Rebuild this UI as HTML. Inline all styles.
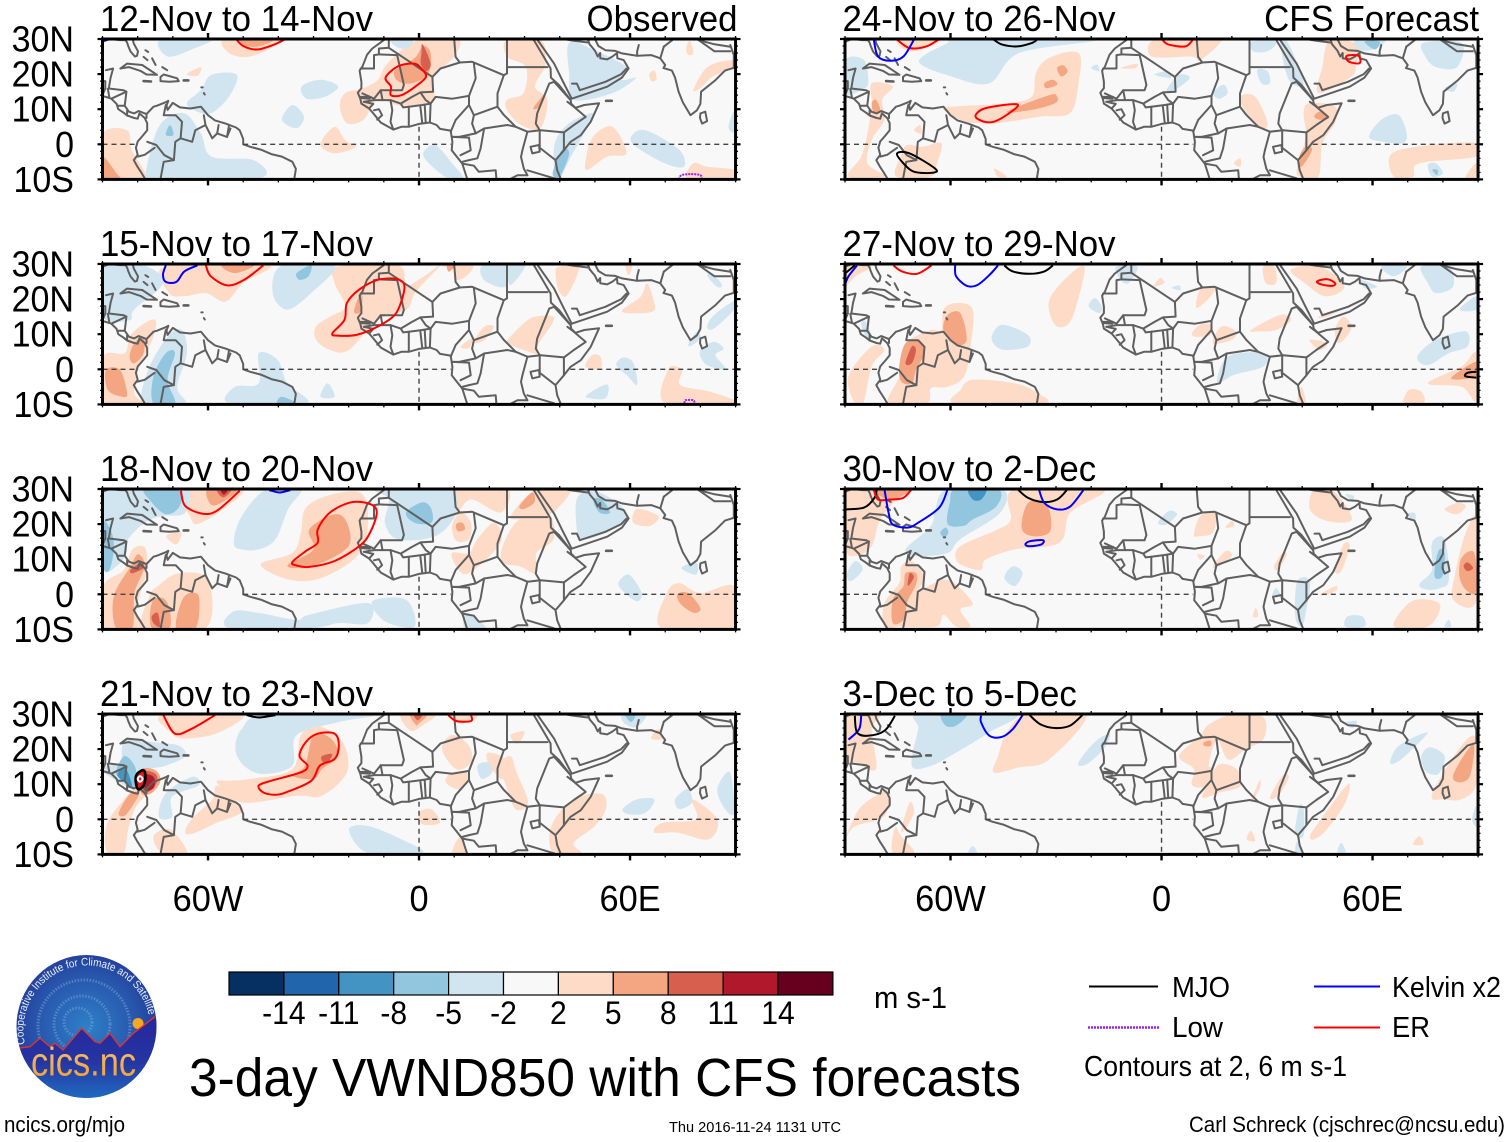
<!DOCTYPE html>
<html lang="en">
<head>
<meta charset="utf-8">
<title>3-day VWND850 with CFS forecasts</title>
<style>
html,body{margin:0;padding:0;background:#fff;}
svg{display:block;font-family:"Liberation Sans",sans-serif;}
text{fill:#000;}
</style>
</head>
<body>
<svg id="figure" xmlns="http://www.w3.org/2000/svg" width="1510" height="1142" viewBox="0 0 1510 1142">
  <rect width="1510" height="1142" fill="#fff"/>
  <g id="panels"></g>
  <g id="colorbar"></g>
  <text x="874" y="1008" font-size="31" textLength="73" lengthAdjust="spacingAndGlyphs">m s-1</text>

  <g>
    <line x1="1089" y1="986.500" x2="1158" y2="986.500" stroke="#000" stroke-width="2"/>
    <text x="1172" y="997" font-size="29" textLength="58" lengthAdjust="spacingAndGlyphs">MJO</text>
    <line x1="1314" y1="986.500" x2="1380" y2="986.500" stroke="#0000ff" stroke-width="2"/>
    <text x="1392" y="997" font-size="29" textLength="109" lengthAdjust="spacingAndGlyphs">Kelvin x2</text>
    <line x1="1088" y1="1027.500" x2="1159" y2="1027.500" stroke="#a020f0" stroke-width="2.500" stroke-dasharray="2 1"/>
    <text x="1172" y="1037" font-size="29" textLength="51" lengthAdjust="spacingAndGlyphs">Low</text>
    <line x1="1314" y1="1027.500" x2="1380" y2="1027.500" stroke="#ff0000" stroke-width="2"/>
    <text x="1392" y="1037" font-size="29" textLength="38" lengthAdjust="spacingAndGlyphs">ER</text>
    <text x="1084" y="1076" font-size="28.500" textLength="263" lengthAdjust="spacingAndGlyphs">Contours at 2, 6 m s-1</text>
  </g>

  <text x="189" y="1096" font-size="54" textLength="832" lengthAdjust="spacingAndGlyphs">3-day VWND850 with CFS forecasts</text>
  <text x="4" y="1132" font-size="22.500" textLength="121" lengthAdjust="spacingAndGlyphs">ncics.org/mjo</text>
  <text x="669" y="1132" font-size="14.500" textLength="172" lengthAdjust="spacingAndGlyphs">Thu 2016-11-24 1131 UTC</text>
  <text x="1189" y="1132" font-size="22" textLength="316" lengthAdjust="spacingAndGlyphs">Carl Schreck (cjschrec@ncsu.edu)</text>

  <g>
    <defs>
      <radialGradient id="logoSky" cx="0.5" cy="0.5" r="0.62">
        <stop offset="0" stop-color="#2d80c8"/>
        <stop offset="0.55" stop-color="#2858ae"/>
        <stop offset="1" stop-color="#22308f"/>
      </radialGradient>
      <linearGradient id="logoGround" x1="0" y1="0" x2="0" y2="1">
        <stop offset="0" stop-color="#27249a"/>
        <stop offset="0.55" stop-color="#2535a2"/>
        <stop offset="1" stop-color="#1f74c4"/>
      </linearGradient>
      <linearGradient id="logoText" x1="0" y1="0" x2="0" y2="1">
        <stop offset="0" stop-color="#f6c676"/>
        <stop offset="1" stop-color="#f09a32"/>
      </linearGradient>
      <clipPath id="logoClip"><ellipse cx="86.500" cy="1026.500" rx="70" ry="71.500"/></clipPath>
      <path id="logoArc" d="M 25 1044 A 63 64 0 1 1 149 1016"/>
    </defs>
    <ellipse cx="86.500" cy="1026.500" rx="70" ry="71.500" fill="url(#logoSky)"/>
    <g clip-path="url(#logoClip)" fill="none" stroke="#7fa8d8" stroke-opacity="0.5" stroke-width="3" stroke-dasharray="1.500 1.500">
      <circle cx="78" cy="1022" r="14"/>
      <circle cx="82" cy="1024" r="28"/>
      <circle cx="84" cy="1026" r="46"/>
    </g>
    <circle cx="138" cy="1023.500" r="5.500" fill="#f7a823"/>
    <path clip-path="url(#logoClip)" d="M12 1050 L18 1048.300 L30 1046.700 L40 1038.300 L50 1046.700 L55 1043.300 L63 1050 L81.700 1028.300 L95 1041.700 L100 1043.300 L110 1033.300 L120 1046.700 L133.300 1033.300 L155 1016.700 L165 1010 L165 1105 L12 1105 Z" fill="url(#logoGround)" stroke="#e2342e" stroke-width="1.300"/>
    <text x="31" y="1075.500" font-size="40" textLength="105" lengthAdjust="spacingAndGlyphs" style="fill:url(#logoText)">cics.nc</text>
    <text font-size="11" style="fill:#e6f0fa"><textPath href="#logoArc" textLength="205" lengthAdjust="spacingAndGlyphs">Cooperative Institute for Climate and Satellites</textPath></text>
  </g>
</svg>

<script>
/* ---------- colour scale ---------- */
const colorbarLevels = [-14, -11, -8, -5, -2, 2, 5, 8, 11, 14];
const colorbarColors = ['#053061','#2166ac','#4393c3','#92c5de','#d1e5f0','#f8f8f8','#fddbc7','#f4a582','#d6604d','#b2182b','#67001f'];

/* ---------- axis tick values ---------- */
const latTickLabels = [[30,'30N'],[20,'20N'],[10,'10N'],[0,'0'],[-10,'10S']];
const lonTickLabels = [[-60,'60W'],[0,'0'],[60,'60E']];
const panelTitles = ['12-Nov to 14-Nov','15-Nov to 17-Nov','18-Nov to 20-Nov','21-Nov to 23-Nov','24-Nov to 26-Nov','27-Nov to 29-Nov','30-Nov to 2-Dec','3-Dec to 5-Dec'];

/* ---------- geography (lon, lat pairs) ---------- */
const coastLines = [
 [-10,29.7,-13.3,27.3,-14.8,25.5,-16.1,22.1,-16.9,21,-16.4,17.8,-16.4,16,-17.4,14.7,-16.7,13,-16.4,11.6,-14.2,10.2,-13,8.8,-10.9,6.2,-7.3,4.2,-5,5,-2.9,5,0,5.8,3.1,6.2,5,5.5,6,4.4,9,3.9,9.5,.7,9.3,-1.7,12.3,-5.5,13.7,-9.9],
 [32.7,29.6,34.6,26.4,37.4,21.6,37.5,19,39.8,16.9,43.1,12.6,43.3,11.5,44.5,10.4,47,11.2,51.2,11.7,48.8,6.4,46,2.6,43.1,.7,41.2,-1.7,38.8,-4.5,39.3,-7.4,40.3,-9.9],
 [33.6,29.9,38.4,23,40.7,18.3,43.4,13,46.4,14,53.5,16.4,57.7,19,59.6,21.6,58.2,24,56.4,24.5,56.3,26,55,25,53.5,24.2,51.5,24.5,51.5,26,50.8,25,50,26.7,48.5,28.5,48,30],
 [48.7,30,50,30,51,28,53,26.8,55.8,26.6,57.7,25.9,62,25.2,66,25.4,68.6,24.5,70,22.6,69.5,21.7,71.9,21,72.8,19,73.8,15,75,12,77.2,8.3,79,9.7,80,11.5,80.2,15,84.3,18.3,87,21,89.5,21.8],
 [80,8.8,81.4,9.3,81.9,6.6,80.5,5.9,79.9,7.5,80,8.8],
 [-89,21.1,-87,21.6,-87.7,19,-88.2,15.9,-84,15.4,-83.2,15,-83.5,12.5,-83.7,11,-82.5,9.3,-81,8.8,-79.7,9.5,-77.5,8.6,-75.5,10.7,-74.5,11,-72,12,-71.3,12.4,-71.8,11,-71.5,9.8,-70,11.8,-68,10.5,-65,10.2,-62,10.7,-61,9.5,-60,8.3,-58,6.8,-55,5.9,-52,4.8,-51,4,-50,1.5,-50,0,-48,-0.7,-45,-1.5,-42,-2.8,-39,-3.5,-36,-5,-35,-7,-35.5,-10],
 [-90,13.8,-88,13.2,-87.5,13,-86,11.5,-85.5,10,-84,9,-83,8.2,-81,7.5,-80,7.3,-79.5,8.8,-78,7.5,-77.3,6,-77.3,4,-78.5,2.5,-80,.8,-80.5,-1,-80,-3,-81.1,-4.5,-80,-6.5,-79,-8,-77.8,-10],
 [-90,29.2,-88,30,-85,29.7,-83.5,29.7,-83,29,-82.7,28,-82,26.4,-80.8,25,-80.2,25.2,-79.9,26.5,-81.1,28.7,-81.4,30],
 [-84.9,21.6,-83,23,-78.7,22.6,-74.5,19.8,-77.5,19.9,-79.2,20.9,-82.5,22,-84.9,21.6],
 [-73.5,19.2,-72.6,19.9,-68.8,18.8,-68.3,18,-71,17.8,-73.5,18,-73.5,19.2],
 [-78.3,18,-76.2,17.9],[-66.9,18.2,-65.6,18.2],
 [-77.8,26.8,-77,26.3],[-78.3,24.9,-77.2,24],[-75.9,24.5,-74.9,22.6],[-73,22,-71.6,21.1],
 [-61.9,16.2,-61.5,16.2],[-61.2,14.6,-60.9,14.2],
 [31.7,-0.7,34.1,-0.2,34.3,-2.1,32.2,-2.6,31.7,-0.7],
 [29.4,-1.7,29,-3.6,29.8,-6.9,30.8,-8.8]
];
const borderLines = [
 [-8.6,29.9,-8.6,27.5,-11.4,27.3,-11.4,25.6,-12.8,25.4,-12.8,21.6,-16.6,21.6],
 [-11.4,25.6,-6.2,25.4,-4.3,16.9,-4.8,15.4,-10.9,15.4,-12.8,13,-16.1,14.5],
 [-8.6,27.5,3.8,19.2,6.1,21.6,11.6,23.3,15.1,23.5,24.1,19.7,25,20.2,25,29.9],
 [10,29.9,10.4,24.9,11.6,23.3],[25,22,36.5,22],
 [15.6,23,16.1,18.8,14.2,13.8],
 [3.8,19.2,4,15,.4,14.8,-2,13.5,-5.2,11.6,-8.1,12.6,-10.4,12.6,-10.9,15.4],
 [.4,14.8,1.9,12.6,3.3,11.6,4.7,13.5,9.5,13,14.2,13.8],
 [3.3,11.6,3.1,6.3],[-5.2,11.6,-4.5,10.5,-2.9,10.7,.9,11.2,3.3,11.6],[-2.9,10.7,-2.9,5.2],[.4,10.7,.9,6.2],[1.6,11.2,1.9,6.2],
 [-8.1,12.6,-7.6,9.7,-8.1,6.4,-7.3,4.2],[-12.8,9.7,-11.4,10,-10.5,8.3,-11.9,7],[-15.7,12.1,-12.8,12.6,-10.4,12.6],[-16.7,13.5,-13.8,13.5,-14,13,-16.7,13.2],[-14.2,10.2,-13,11.5,-15.7,12.1],
 [9,3.6,10.4,6.9,14.2,11.2,14.2,13.8],[14.2,11.2,15.6,8.3,15.1,5.9,16.1,3.1,11.4,2.1,9.5,2.1],
 [15.6,8.3,22.3,10.7,22.3,14.5,24.1,19.7],[22.3,10.7,24.2,8.3,27.5,5],[16.1,3.1,18.5,4.5,25.1,5.5,27.5,5,30.8,3.6,34.6,4,41.2,3.4],
 [34.3,4,33.2,5.9,33.6,8.8,37,17.3,38.4,17.8,43.1,12.6],[41.2,3.4,44,5.5,47.4,7.8,44,10.7,42.2,12.1],[41.2,3.4,41.2,-1.7],[34.3,4,34.3,-1.7],[34.6,-1.2,38.8,-4.5],
 [30.8,3.6,29.4,-1.7],[30.8,-7.4,38.4,-9.7],[14.2,1.9,14.7,-1.7,11.8,-3.1],[9.5,2.1,14.2,1.9],[18.5,4.5,17.5,-1.2,16.6,-4,14.2,-4.5,12.3,-5],
 [12.3,-5.5,15.6,-6.1,17,-7.8,21.8,-7.4,22,-9.9],[24,-10.9,28,-8.8,30.8,-8.8],
 [43.5,17.3,44.9,17.3,45.7,15.4,53,17.8,57.5,20,59,21.6],[48,29,44,29.5,41,30],
 [62.5,28.3,62,26.4,62,25.2],[69.6,27.8,68.6,24.5],[69.6,27.8,72,29.7],[79.5,29.7,84,26.5,88.5,26.5],[79.5,29.7,84,28.5,88.5,27.8],[88.5,28.3,89.5,25.4,89.5,21.8],
 [-72,11.2,-72.6,8.3,-69.2,8.3,-67.4,6.4,-67.8,1.7,-69.3,.7,-69.7,-4.5,-72.6,-5,-73.5,-9.9],
 [-67.8,1.7,-64.5,.7,-63.6,4,-60.7,5.5,-61.2,8.3],[-60.7,5.5,-58.8,1.7,-57.4,3.1,-54.6,2.1,-53.6,4.5],[-57.4,3.1,-57,5.5],[-54.6,2.1,-54,5.5],
 [-77.3,.7,-74.7,-.2,-72.4,-3.1,-69.7,-4.5],[-80,-3.5,-78,-3,-75.2,-1],
 [-83,8.2,-83,9.6],[-85.7,11,-83.7,11],[-87.5,13,-83.2,15],[-89.2,15.9,-89.2,18,-90,18],[-88,13.2,-88.5,15.8],[-90,14,-89.2,15.9],[-77.5,8.6,-77.5,7.5]
];
const islandDashes = [[53.2,12.4,54.8,12.4],[-78.3,18,-76.2,17.9],[-66.9,18.2,-65.6,18.2]];

/* ---------- shaded anomalies: [level, [lon, lat, ...]] ---------- */
const shade12Nov = [
 [2,[-55,30,-54,26,-48,25,-39,29,-37.5,30]],[5,[-51.5,30,-49,28,-45,28,-41.5,30]],
 [2,[-0.8,29.5,11,30,10,25,4,19,4,12.7,-5,11,-11.7,12.7,-15.8,7,-20.5,6,-22.5,10.8,-21,14.6,-15.8,16,-11.7,18.4,-9,23]],
 [5,[1.2,28,3.3,26,2.6,20,-2,17.4,-6,18,-7,20.8,-3.5,23,-0.8,25]],[8,[1,28.5,3.3,23,2,20.8,0.5,23,0.7,26]],
 [2,[25,29.8,34.5,29.8,36,23,33,16.5,36.5,12.7,34.5,4.6,29,5.5,25,9.8,25,12.7,29.7,14.6,30.4,22,25,25]],[5,[36,14.6,34.5,10.8,32.5,10.3]],
 [2,[-28,0,-24,5,-21,1.2,-18,-0.7,-24,-2.6]],[2,[-90,3,-83,4,-81.7,-1.6,-78,-9.7,-90,-9.7]],[5,[-90,-3.5,-86,-8.3,-85,-10,-90,-10]],
 [2,[47.4,-4.5,49.5,2.2,55,5,59,-2.6,53.5,-3.5,47.9,-7.3]],[2,[76.6,-10,78,-5.4,82,-6.4,89.5,-7.3,89.5,-10]],
 [2,[78,15.5,82,22,89,24,89,21.7,83.4,19.3,80,16]],[2,[65.5,20,67,21,67.5,18.5,66,18]],[2,[76,27.5,77,29.5,78,26,76.5,25.5]],[2,[-66,20,-62,22,-63,19.5]],
 [-2,[-66,11.7,-62,15.5,-59,19.8,-51.8,19.8,-54,13.6,-59,8.9,-63,9.3]],[-2,[-73.5,29.8,-71.5,25,-64.7,27,-59,30]],
 [-2,[-33.4,16.5,-28,18.4,-23,16.5,-26.6,13.6,-32,13]],[-2,[-39,7,-36,11.2,-32.7,7.9,-34.8,4.6]],
 [-2,[-78,-9.2,-74,5,-67,8.9,-62,3,-59,-3.5,-47,-4.5,-45.6,-9.7,-77,-10]],[-5,[-72,2.7,-70.8,5.5,-69.8,2.7]],
 [-2,[1.2,-2.6,4.6,-0.2,9.4,-5.4,12.8,-10,8.7,-10,3.3,-5.9]],[-2,[38.6,-9.2,38.6,0.3,42.7,6,49.5,8.9,47.4,4,42.7,-4.5,40,-10]],[-5,[38,-8.3,40.6,-1.6,42.7,-2.6,40,-9.2]],
 [-2,[42.7,28.9,49.5,27,59,22,57.6,18.4,61.7,18.9,55,14.6,44,12.7,42.7,20]],[-2,[60.3,2.2,64.4,4,74,-1.6,75.3,-6.4,69.8,-5.4,61.7,-0.7]],
 [-2,[88,5,89.5,9.3,89.5,3.6]],[-2,[-8.3,30,-2,30,-3,27.5,-6,27.5]]
];
const shade15Nov = [
 [2,[-72,29.3,-43,29.8,-50,24.6,-55,19.3,-60.6,21.7,-66.7,20.8,-71,21.7]],[5,[-56,29.6,-47,29.6,-52.4,27.4]],
 [2,[-29.3,12.2,-25.3,15,-21,17.9,-24,24.6,-23.2,29.3,-6,29.6,-3.8,24,.5,25.9,6.1,29.7,-1,22,-3.5,17,-11.7,14,-20,5.5,-25.3,5.5,-29.3,8.4]],
 [5,[-18.5,16.4,-17.1,20.7,-16.1,20.7,-16.6,16.4]],
 [2,[6.1,29.7,15.1,29.7,13.2,26.4,10,25.4,10.4,28.3]],[5,[8,29.7,10.4,29.7,8.5,27.8]],
 [2,[-82.3,9.3,-78.3,13,-74.9,14,-75.5,9.3,-78.3,3.6,-79.6,0.8,-81,-6.9,-78.3,-9.7,-89.8,-9.7,-89.8,3.6,-83.7,4.6]],
 [5,[-82.3,3.6,-81,7.4,-78.3,9.3,-78.3,4.6,-81,1.7]],[5,[-89,-0.2,-85,-0.2,-83,-6.9,-84.4,-7.8,-88.5,-5.9]],
 [2,[25.1,8.3,29.8,13.1,33.1,15,38.4,14.5,34.1,7.4,33.6,4.5,29.8,5.5,25.1,7.4]],[2,[15.6,7.8,18.5,12.1,21.3,12.1,18.5,8.3]],[2,[11.8,6.4,15.1,8.8,14.2,6]],
 [2,[57.7,16.4,63,20.7,64.8,24.5,66.7,19.7,66.3,16.4]],[2,[39.7,29.2,45.4,29.2,42.1,21.1,39.7,22.5,38.8,27.3]],
 [2,[70,-9.7,71,.2,74.8,-.2,74.3,-4.5,82.8,-6.4,90,-9.7]],[2,[47.3,.7,49.2,4,51.6,3.6,51.6,.2]],[2,[58.7,29.7,60.6,29.7,59.6,26.8]],
 [-2,[-89.8,29.6,-78.3,29.6,-72.8,24.6,-81,17,-82.3,14,-89.8,15]],[-2,[-41.6,21.7,-39,29.6,-24,29.6,-30.7,21.7,-37.5,17]],[-5,[-34.8,27.4,-30.7,29.6,-31.4,26.5,-34,25.5]],
 [-2,[-78.3,-9.7,-77,-0.2,-71.5,9.3,-67.4,11.2,-66,4.6,-68.8,-5,-66.7,-9.7]],[-5,[-75.5,-9.7,-75.5,-2,-72,4.6,-69.4,4.6,-71.5,-3,-69.4,-9.7]],
 [-2,[-53.8,-9.7,-52.4,-5,-45.6,-4,-45.6,4.6,-40.2,2.7,-37.5,-4,-32,-9.7]],[-5,[-40.2,-9.7,-39,-7.8,-35,-9.7]],[-2,[-28,-7.8,-26,-4,-24,-7.8]],
 [-2,[18,29.7,25.1,29.7,24.6,23.5,18.5,25.4]],[-2,[25.6,29.7,30.3,29.7,26,24]],
 [-2,[56.1,1.7,58.2,3.4,61,1.7,62,-4.5,59.1,-1.7,56.8,.2]],[-2,[47.6,-7.4,52.5,-4.5,53.9,-5,53,-8.3,48.7,-8.3]],
 [-2,[80,5.5,83.8,7.8,86.6,5.9,84.3,4,87.1,.2,82.8,.7,80.5,2.6]],[-2,[81.9,12.1,83.8,15.4,90,19.7,89.5,16.9,83.8,11.6]],[-2,[76.7,7.4,79,10.7,80,8.8,77.2,6.6]],[-2,[81.9,26.8,83.8,26.8,86.2,24,84.7,23.5]]
];
const shade18Nov = [
 [2,[-67.7,30,-50.4,30,-56.3,23.8,-63,20,-65,22]],[5,[-60,30,-51.6,30,-56.3,26,-59.3,25.7]],[8,[-57.5,30,-53.3,30,-55.7,27.6]],[11,[-56.3,29.5,-54.5,29.5,-55.5,28.4]],
 [2,[-45,8.5,-36,11.8,-33.6,17.6,-32.4,24.3,-26.4,28,-16.8,29,-14.5,22.3,-16.8,11.8,-27.6,4.7,-37,4.2]],
 [5,[-37.2,8.5,-30,12.8,-31.2,18.5,-24,22.8,-20.5,20.4,-20,13.8,-27.6,9,-34.8,7.5]],
 [2,[-71.9,16.6,-67.7,17.6,-69,14.2]],
 [2,[-89.8,2.3,-83.9,7,-81.5,12.8,-77.9,13.3,-77.3,7,-79,1.3,-80.3,-5.3,-77.3,-9.6,-89.8,-9.6]],[5,[-86.2,-9.6,-86.8,-0.6,-82,8,-79.9,11.4,-78,8,-80.9,0.4,-81.5,-9.6]],[8,[-82,7,-79,9,-78.3,7.5,-81.5,6]],
 [2,[-77.9,-9.6,-76.7,-0.6,-74.3,2.3,-68.3,6,-60,4.2,-60.6,-9.6]],[5,[-76,-9.6,-76,-2.5,-73,-1,-71,-4,-71,-9.6]],[5,[-69,-9.6,-67.5,-2,-65,0.4,-62.5,-1,-63.5,-9.6]],[8,[-76,-6.3,-74.3,-5.3,-73.7,-9.2,-75.5,-8.2]],
 [2,[9.4,30,25,30,23.2,23.3,14.8,27,10.6,23.3]],[2,[9.4,19.5,11.8,23.3,14.8,20.4,14.2,15.7,10.6,15.2]],[5,[10.6,20,12.4,20.4,13,18.5,11,18]],
 [2,[16.6,15.7,21.4,20.4,23.2,14.7,14.2,6,10.6,8,9.4,11.8,14.2,11.8]],[2,[23.8,13.8,28.6,21.4,37,22.3,38.2,15.7,33.4,11.8,33.4,6,28.6,8,23.8,9]],
 [2,[26,22,33.4,30,43,30,38,23.3,32,22]],[5,[28.6,25.2,32.2,29,32.8,26.2,29.8,24.3]],[2,[17.2,28,19.6,29,20.2,27]],[2,[60.9,20.4,62,24.3,68,22.3,65.7,19.5]],
 [2,[69,-9.6,70.5,0.4,74,3.2,80,0.4,89.6,2.3,89.6,-9.6]],[5,[73.4,-0.1,76.4,0.4,80,-3.9,78.2,-5.3,74.6,-3]],
 [-2,[-89.8,30,-67.7,30,-65.3,27,-67,22.8,-73,22.3,-78,20.4,-82.7,15.7,-83.2,11.8,-86,8,-89.8,8]],[-5,[-77.9,30,-68.7,30,-68,25.2,-72,22.8,-76.7,27]],[-5,[-89.8,20.4,-87.4,17.6,-86.8,12.8,-88,7,-89.8,8]],
 [-2,[-52.7,14.7,-50.4,22.3,-43.2,30,-33.6,30,-37.2,24.3,-40.8,15.7,-45.6,12.8,-50.4,12.8]],
 [-2,[-12,30,8.3,30,10.6,23.3,4.7,16.6,-6,15.7,-9.7,20.4,-8.5,27]],[-5,[-3.7,23.3,1,26.2,3.5,24.3,3.5,20.4,-1.3,20.4]],
 [-2,[45.3,28,51.3,29,59,23.3,54.9,18.5,46.5,15.7,44.7,20.4]],[-5,[49.5,27,52,27,54.3,23.3,51.3,23.3]],[-2,[56.7,3.2,59.7,5.6,63.3,0.4,62,-2,58.5,0.4]],[-2,[74.6,7.5,78.8,9,78.8,5.6]],
 [-2,[-53.9,-9.6,-52.8,-4.9,-45.6,-5.3,-34.8,-7.3,-31.2,-5.8,-14.5,-2.5,-14.5,-8.2,-22.8,-8.2,-31.2,-9.6]],[-2,[-13.3,-2,-3.7,-1.5,-1.3,-9.2,-9.7,-7.7]],[-2,[13,-9.6,13.6,-5.3,19,-9.6]]
];
const shade21Nov = [
 [2,[-73,29.7,-50.4,30,-57.5,24.5,-67,23,-70.7,24.8]],
 [2,[-57.5,10.5,-50.4,4.8,-34.8,6.7,-27.6,6.7,-20.5,13.4,-21.7,22,-28.8,26.7,-33.6,24,-36,14.3,-48,11.5,-54,11]],
 [5,[-32.4,15.3,-30,24,-25,23,-23,18,-27.6,14.3,-30,11.5,-36,12.4]],[8,[-27.6,18,-24.7,18.6,-26,16.2,-27.5,16.5]],
 [2,[-88.6,-9.6,-88.6,-1,-81.5,8.6,-80.3,11,-75.5,13.4,-75,9.6,-80.3,3.8,-82.7,-2.9,-84,-9.6]],[5,[-85.4,1.7,-82.5,6.9,-79.7,7.8,-80.2,5.9,-83.5,1.2]],
 [5,[-79,14,-75,14,-73.5,11,-76,7.5,-79,7.5]],[8,[-78.5,13.5,-75,13,-74.5,10.5,-77,7.8,-78.5,8.5]],[11,[-78.3,12.6,-75.4,12,-75.4,9,-78,8.3]],
 [2,[-66.5,-3.8,-64.7,0,-58.7,5.7,-57.5,9.6,-51.6,4.8,-50.4,1.9,-57.5,-1,-64,-4]],[2,[-73,-9.6,-75.5,-4.8,-70.7,-2.9,-66,-9.6]],
 [2,[-5,30,4.7,30,1,26.7,-2.5,25.3]],[5,[-2.5,30,2.3,30,-0.1,27.2,-1,27]],[8,[-1.5,30,1,30,-0.4,28.2]],[2,[9.4,29.7,16.6,29.7,14.2,27.7,10.6,27.5]],
 [2,[6.5,20,9.4,24,14.2,21,14.8,16.2,10.6,14.3]],[2,[19.6,19,24.4,17,23.8,11.5,21.4,13.4,19.6,16]],[2,[7.6,10.5,9.4,13.4,14.2,12.9,11.8,8.6]],
 [2,[22.6,15.3,26,18,27.7,13.4,31,4.8,27.4,2.9,24.4,10.5]],[2,[26,24,30,25,28,21.5]],[2,[38.2,-9.6,37.6,-1.9,44,5.7,52,7.2,53.1,2.9,50,-1.9,44,-6.7,46,-9.6]],
 [2,[66.9,-3.8,69.3,-1,78.8,0,77.6,5.7,84.8,0,82.4,-5.7,73.4,-3.8]],[2,[66,23,68,25.8,69.3,23]],[2,[0,1.9,3.5,2.9,5.9,-1,1,-1.4]],[2,[9.4,-9.6,11.8,-4.8,13,-9.6]],
 [-2,[-82.7,23,-75.5,22,-68.3,21,-66.5,18,-71.9,15.3,-78,13.8,-79,9.6,-81.5,8.6,-89.8,13.4,-89.8,15,-85,16.2,-84.4,21]],[-5,[-86.2,13.4,-83.8,18,-80.9,15.3,-80.3,11,-81.5,9,-84.4,11.5]],[-8,[-85.8,12.6,-83.5,14.5,-81.6,9.7,-83,10]],
 [-2,[-52.2,20,-50.4,25.8,-43.2,30,-12,30,-22.8,27.7,-34.8,24,-36,15.3,-44.4,12.9,-49.8,15.3]],
 [-2,[57.9,30,64.5,30,62,26.3,58.5,27.2]],[-5,[58.5,30,61.5,30,60.3,27.7]],[-2,[-19.9,-2.9,-14.5,-1.9,-5,-5.7,1,-9.6,-14.5,-9.6]],
 [-2,[57.9,2.9,62,5.7,66.9,5.7,64.5,1.9,59.7,1.4]],[-2,[72.8,5.7,76.4,8.6,77.6,4.8,74,2.9]],[-2,[84.8,8.6,88.4,13.4,89.6,1.9,87,2.9]],[-2,[16.6,15.3,19.6,16.2,20.8,13.4,17.8,11.5]],
 [-2,[-74,.7,-72,7.4,-64.5,12.1,-62.6,9.7,-70.2,6.4,-70.2,.7]]
];
const shade24Nov = [
 [2,[-75.2,30,-63,30,-66.9,27.5,-72,26.5]],
 [2,[-62,9.8,-58.4,10.8,-44,11.7,-36.9,13.6,-35.7,20.3,-32,24.6,-23.6,26,-23.6,17.4,-26,8.9,-34.5,7.9,-46.5,6,-51.3,6,-56,6.5]],
 [5,[-44,9.3,-32,14,-29.7,13.6,-30.3,11.7,-37,9.8]],[5,[-29.7,21.7,-28,22.5,-26.7,20.8,-28.5,19.3]],[5,[-33.3,17.4,-30.9,18.4,-29.7,17,-32.7,16]],
 [2,[-89,-9.2,-85.4,-3.5,-83.6,3.1,-82.4,11.7,-82.4,17.4,-76.4,16.5,-79.4,12.7,-78.8,7,-82.4,1.2,-83.6,-5.4,-78.8,-9.2]],[5,[-82.4,11.7,-81.2,12.7,-80,9.8,-81.8,9.3]],
 [2,[-75.4,-9.2,-74.2,-3.5,-72.4,-0.2,-68,-0.7,-62.6,0.3,-63.8,-5.4,-65.6,-9.2]],[2,[-70.4,4,-68.6,5.5,-68.3,3]],[2,[-46.5,-9.2,-47.5,-6.9,-44,-9.2]],
 [2,[-2.2,29.8,8.6,29.8,17,29.8,11,24,8.6,25,-2.8,25]],[2,[-11.7,21.7,-7,23,-7.5,21.7]],
 [2,[48,29.8,56.5,28,55.3,23,54,19.3,44.6,14.6,45.7,22]],
 [2,[38.6,-6.4,41,2.2,40.4,8.9,42,11.7,49.3,10.8,49.3,6,45.7,0.3,44.6,-9.2,39.2,-9.2]],[5,[39.2,-3.5,41,-0.7,42.8,-1.6,39.8,-6.4]],[5,[43.4,7.9,45.1,9.3,47.5,7.4,45,7]],
 [2,[22.4,13.6,26.6,13.6,30.2,6,27.8,4.6,23.6,9.8]],[2,[66,-9.2,65.5,-2.6,77,-0.2,89.5,0.3,89.5,-3.5,73.3,-5.4,71.5,-9.2]],[2,[86.5,-9.2,89.5,-5.4,89.5,-9.2]],[2,[20.6,-5.4,22.4,-4,22.4,-6.4]],
 [-2,[-90,24,-84.6,24,-83.4,17.4,-85.4,15.5,-90,14.6]],[-2,[-69,23.6,-60.8,28.9,-58.4,29.8,-18.9,29.8,-40.5,26,-48.9,17.4,-59.6,19.3]],[-2,[-20,21.7,-18.3,22.7,-17.7,20.8]],
 [-2,[1.4,15.5,5,19.8,8,18.9,3.8,15.5]],[-2,[-2,19.8,1.4,20.8,2.6,18.9]],[-2,[14.6,14.6,17.6,17,18.8,14.6,16.4,13]],[-2,[27.2,21.2,30.2,20.8,30.8,17.4,28.4,17.4]],
 [-2,[55.3,29.8,63.7,29.8,60,27,56,27]],[-5,[57.7,29.3,62,29.3,60.7,27]],[-2,[74.5,28.9,85.3,28.9,84,22,78,22,75,25]],[-2,[80.5,16,84,17.4,83,15]],
 [-2,[59,2.2,62.5,7,67.3,8.4,69.7,3.1,68.5,0.3,62.5,0.8]],[-2,[75.7,-5.9,78,-5.4,80,-8.3,76.9,-9.2]],[-5,[77,-7.3,78.5,-7.3,78.3,-8.8]],[-2,[25.7,29.3,32.6,29.3,30.2,26.5,26,26.5]],[-2,[33.8,28.9,36,28.9,40.4,17.4,36.2,18.4]]
];
const shade27Nov = [
 [2,[-89.6,29.3,-82.4,29.3,-87,26.5,-90,23.6]],[2,[-87.2,-9.7,-89,-2,-82.4,6.5,-78.8,5.5,-82.4,0.8,-84.8,-9.7]],
 [2,[-77.6,-9.7,-74.6,-2,-74,4.6,-71.6,8.4,-65.6,11.2,-62.6,11.2,-62,17,-58.4,18.9,-53.7,17,-54.3,6.5,-56.1,-2,-60.9,-5,-65.6,-5.4,-66.8,-9.7]],
 [2,[-58.4,-9.7,-57.2,-5.9,-53.7,-3,-41.7,-4,-35,-6.9,-33.8,-9.7]],
 [5,[-74.6,0.8,-72.8,7.4,-68.6,7.9,-67.4,4.6,-69.8,-0.2,-71,-4,-74,-3.5]],[8,[-72.8,1.7,-71,6.5,-69.8,5.5,-71,1.7]],[5,[-62,11.2,-60.8,15.5,-57.2,16,-55.4,8.4,-58.4,7]],
 [2,[-32.1,18.9,-28.5,24.6,-22,29.3,-24.3,17.9,-26.7,12.7,-30.3,12.7]],[2,[36.8,28.4,45.1,29.3,52,23.6,46.6,20.8,40.7,24.6]],[2,[28.9,29.3,32,29.3,32.6,24.6,29.6,24.6]],
 [2,[9.8,17.9,11,22.7,15.2,23.6,14,20.8,11,18]],[2,[8.6,10.3,11,12.7,14,12.7,14,9.8,9.8,9.3]],[2,[14.6,7.4,17,12.2,21.2,10.8,20,8.4]],[2,[25.4,11.2,33.8,15.5,36.8,14,32.6,11.2,27.8,10.8]],[2,[-2.2,23.6,-0.4,26,0.8,24.6]],
 [2,[44.6,15,53,17.9,47,15]],[2,[49.3,11.2,51.7,15,54,11.7,50.5,7.4]],[2,[42,8.4,47,7.4,45,5.5]],
 [2,[75.7,-4,85.3,0.8,89.5,4.6,89.5,-8.8,85.3,-5]],[5,[82.3,-2.6,89.5,2.2,89.5,-2]],[2,[69,-9.7,70.3,-5.9,73.9,-6.4,74.5,-9.7]],[2,[38.6,-9.7,39.8,-5,41,-9.7]],
 [-2,[-48.3,9.3,-45.3,12.7,-38,9.8,-38,6.5,-44,5.5,-47,6.5]],[-2,[-20.7,17.9,-19,20.3,-17,17.9,-17.7,16]],[-2,[15.8,-4,18.8,3.6,29,4.6,29,0.8,20.6,-1.6]],
 [-2,[72.7,3.6,78,8.4,86.5,10.8,87,6.5,81.7,4.6,75.7,1.2]],[-2,[73.9,29.3,81.7,29.3,82.9,23.6,78,21.7,75.7,24.6]],[-2,[84.7,17,89.5,20.8,89.5,17]],[-2,[62.5,29.3,69.7,29.3,66,26.5]],
 [-2,[2.9,23.2,5,23.9,5.3,22.5]],[-2,[-12.9,29.3,-6.9,29.3,-9.3,24.6,-11.7,25.5]],[-2,[-85.4,12.7,-84.2,13.7,-82.4,9.3,-83.6,8.4]],[-2,[56.5,25.5,61.3,23.6,58,23]]
];
const shade30Nov = [
 [2,[-90,30,-78.7,30,-70.3,30,-75.2,27,-80,21.3,-82.4,13.7,-87.2,10.9,-90,13.7]],[5,[-81.8,30,-70.9,30,-76.4,27,-80,28]],
 [2,[-58.4,9.9,-57.2,13.7,-46.5,18.5,-42.9,21.3,-41.7,30,-16.5,30,-26,23.2,-29,14.7,-41.7,12.8,-50,9.9,-51.3,7,-56,8]],[5,[-39.8,19,-38,26,-33.3,26,-31.5,22.3,-32,17.5,-36.9,16.6]],
 [2,[-78.8,-9.2,-78.8,-2.5,-74.6,3.2,-74,8,-71,9.4,-67.4,5.1,-68.6,1.3,-60.9,4.2,-53.7,-2.5,-57.2,-4.4,-54.3,-9.2,-58.4,-9.2,-62,-5.8,-64,-9.2,-74,-9.2]],
 [5,[-76.4,-8.2,-76.4,-1.5,-73.4,2.3,-72.8,6,-69.8,6,-69.8,2.8,-72.2,-2,-73.4,-7.2]],[8,[-72.2,2.8,-71.6,6,-70.4,5,-71.6,2.8]],
 [2,[9.2,17,11,22.3,15.2,23.2,14.6,17.6,10.5,16.5]],[2,[10.2,11.4,12.2,11,11,9.9]],[2,[14.6,8,18.2,12.3,20,10.9,16.4,8]],[2,[18.2,19,20,20.9,20.6,19.4]],[2,[32,8,34.4,11.8,35.6,11.3,33.2,7]],
 [2,[42.2,24.2,43.4,30,49.3,29,54.1,21.3,47,20.9]],[2,[80.5,24.2,84,26,86.5,25.1,84,22.8]],[2,[49.3,7,51.7,14.2,53.5,13.7,51.1,6.6]],[2,[45.1,-0.1,49.3,2.3,49.9,1.3,47,-0.1]],
 [2,[66.1,-9.2,70.3,-2.5,75.7,-1.5,79.3,-3.4,75.7,-9.2]],[2,[82.9,-1.5,83.5,6,86.5,17.6,89.5,21.3,89.5,-2]],[5,[84.7,5.2,85.3,10.4,88.9,11.8,89.5,0.9,86.5,1.3]],[8,[85.9,8,87,9.1,88.6,7.5,87,6.6]],[2,[26,-6.3,26.8,-3.9,27.5,-6.3]],
 [-2,[-72.8,12.8,-65.6,19.4,-64.4,24.2,-60.8,30,-45.3,30,-45.9,23.2,-57.2,15.7,-60.8,11.8,-69.2,10.9]],[-5,[-60.8,20,-60.2,26,-58.4,30,-46.5,30,-47,25,-53.7,21.3,-56.3,19.5]],[-8,[-54.9,30,-49.9,30,-51.3,27,-53.7,27]],[-5,[-62.9,17.6,-61.4,19,-60.6,17.6,-61.8,16.1]],
 [-2,[-44.7,4.7,-42.3,8,-39.5,6.1,-41.7,2.3]],[-2,[-89.4,6.1,-87,9.5,-85,7,-88.4,3.7]],[-2,[-1,20.4,2,23.7,4.4,22.8,1.4,19.9]],[-2,[31.4,-0.6,32.6,1.8,33.8,-0.6]],
 [-2,[38,-6.3,38.6,3.7,42.2,3.7,41,-5.4,39.8,-9.2]],[-2,[52.3,-9.2,52.9,-6.3,57.1,-6.3,57.7,-9.2]],[-2,[80.5,-9.2,81.7,-7.2,82.3,-9.2]],
 [-2,[73.3,2.8,76.9,7,76.9,14.7,80.5,15.7,81.7,4.2,79.3,1.8,75.7,1.3]],[-5,[77.6,5.2,78.7,12.3,80.5,11.8,79.9,5.2]],[-2,[69.7,22.8,72,23.2,72,21]],[-2,[52.3,28.5,54.7,28,54.1,26.6]]
];
const shade3Dec = [
 [2,[-90,30,-80,30,-82.4,25.7,-81.2,14.3,-87.2,16.2,-90,16.2]],[2,[-47.7,13.3,-46.5,18,-44,24.8,-38,30,-21.3,30,-32,17,-40.5,14.8]],
 [2,[-89.6,-4.8,-86,2.9,-81.2,6.7,-77.6,8,-78.8,0.9,-87,-1.9]],[2,[-74,-2.9,-71.6,4.8,-70.4,1.9,-73,-3]],[2,[-76.4,-9.5,-75.8,-2.4,-74,-4.8,-70.3,-9.5]],
 [2,[5,18,11,23.8,13.4,27,20.6,30,29,29,29,22.9,24,20,19,17,15.8,22.5,13.4,15.5,15,14.3,12.6,9.5,8.6,9.8,9.2,14.3]],[2,[11.6,6.2,14,11.5,16.4,15.7,21.4,14.3,22.4,9.5,16.4,7.6]],[5,[12,21.9,14,22.4,14,20.9,12.2,20.9]],
 [2,[25.4,4.8,27.8,11,28,9]],[2,[30.8,6.2,34.4,12.4,36.2,11.9,33.2,6.7]],[2,[42.2,-4.8,44.6,-1,53,10,52.3,4.8,47,-2.9,43.4,-5.7]],
 [2,[76.9,7.1,85.3,21,89.5,23,89.5,10,85.3,5.7,80.5,5.7]],[5,[82.9,12.4,86.5,19,88.9,21,87.7,12.4,84.7,10.5]],[2,[24.2,-5.7,25.4,-3.3,26.6,-6.2]],[2,[71.5,-7.1,73.3,-4.8,74.5,-7.1]],
 [-2,[-71,15.2,-69.2,25.7,-68.6,30,-41.7,30,-48.9,24.8,-58.4,19,-65.6,15.2]],[-5,[-62.5,30,-55.4,30,-58.4,26.7,-61.4,26.7]],[-2,[-23.7,16,-19,22,-14.7,24.3,-16.5,20,-21.3,15.7]],
 [-2,[65,16.2,67.5,21,75.7,24.8,70.3,19,66.8,16.2]],[-2,[73.9,18,76.3,20.5,80.5,18,78.7,12.9,75,13.8]],[-2,[38,-3.8,39.2,3.8,40.4,2.9,40.4,-4.8]],[-2,[38,-9.5,38.6,-6.2,39.8,-9.5]],[-2,[50,-9.5,51.1,-6.7,52.3,-9.5]],[-2,[88.3,0,89.5,3.8,89.5,-1.9]],[-2,[-54.9,-9.5,-53.7,-7.6,-52.5,-9.5]],[-2,[52,27.5,55.5,28,54.3,26]]
];
const panelShades = [shade12Nov,shade15Nov,shade18Nov,shade21Nov,shade24Nov,shade27Nov,shade30Nov,shade3Dec];

/* ---------- filtered wave contours: [kind, isClosed, [lon, lat, ...]] ---------- */
const contours12Nov = [
 ['er',0,[-52,30,-50,28,-46,27,-41,28.5,-38,30]],
 ['er',1,[-1.5,23,0.5,21.7,2,19.3,-1,16.5,-5,14,-8,14,-8,16.5,-9.5,19,-6,22.2]],
 ['kelvin',0,[-90,29.5,-88,29.9]],
 ['low',0,[73.9,-10,74.6,-8.8,77.3,-8.5,80,-8.8,80.4,-10]]
];
const contours15Nov = [
 ['er',0,[-60.6,29.6,-59.2,26.5,-54.5,23.9,-49.7,25.5,-44.3,29.6]],
 ['kelvin',0,[-72,29.6,-72.8,27,-72,24.9,-69,24.9,-66.7,27.9,-63,29.6]],
 ['er',1,[-24.6,10.3,-21.2,14.1,-20.5,18.9,-17,22.7,-11.7,25.5,-6.3,25.7,-4.2,24,-4.9,19.8,-6.9,15.5,-11.7,12.2,-17.8,9.8,-23.2,9.6]],
 ['low',0,[75.5,-9.7,75.8,-8.8,78,-8.8,78.3,-9.7]]
];
const contours18Nov = [
 ['er',0,[-67.7,29.5,-66.5,25.2,-61.7,23,-57.5,23.8,-51,29.5]],
 ['er',1,[-36,9.2,-32.2,12.3,-28.8,14.7,-28.8,18.5,-25.3,23.3,-19.3,26.2,-13.9,25.7,-12,23.3,-13.9,17.6,-16.9,13.8,-24,9.5,-31.2,7.8,-34.8,8.2]],
 ['kelvin',0,[-42.6,29.7,-39.6,29,-36.6,29.7]]
];
const contours21Nov = [
 ['er',0,[-72.7,29.7,-69.4,24.4,-64.6,25.8,-58,29.7]],
 ['er',1,[-45.6,9.6,-42,11,-33.6,13.4,-31.7,15.3,-34,18,-32.2,22,-28.8,24.4,-24,24.4,-22.8,21,-24,17.2,-28.2,15.3,-30.6,11,-37,8,-40.6,7,-44.2,7.6]],
 ['er',0,[8.3,29.7,10.6,28,14.8,28,14.8,29.7]],
 ['mjo',0,[-49,29.7,-45.5,29,-40.8,29.7]],
 ['cyclone',1,[-80.1,13,-78.3,14,-77.8,12.1,-78.3,9.7,-79.9,8.6,-80.6,11.2]],
 ['eye',1,[-80,11.5,-79.3,12.3,-78.6,11.5,-79.3,10.7]]
];
const contours24Nov = [
 ['er',0,[-75.2,29.8,-71.6,27.4,-66.9,27.9,-63.5,29.8]],
 ['kelvin',0,[-81.8,29.8,-80.6,25,-77,23.8,-73.4,25,-70.4,29.8]],
 ['mjo',0,[-47.7,29.8,-45.3,28.4,-41,27.9,-36.8,28.9,-35.4,29.8]],
 ['er',1,[-52.8,8.4,-50,10.3,-41,11.4,-44,8.4,-48.3,6.3,-51.9,7]],
 ['mjo',1,[-75.2,-2.6,-71.6,-2.6,-64.4,-6.9,-65,-8.1,-70.4,-7.8,-73.4,-5.4]],
 ['er',0,[0.2,29.8,2,28.4,6.8,27.9,8.9,29.8]],
 ['er',1,[52.7,25.2,56,25.2,56.3,23.1,53.2,23.6]]
];
const contours27Nov = [
 ['er',0,[-76.2,29.6,-73.8,27.9,-69.5,27.2,-65.4,29.6]],
 ['kelvin',0,[-58.7,29.6,-58.4,26.5,-55.4,23.8,-52.4,24,-48.9,26.9,-46.5,29.6]],
 ['kelvin',0,[-86.6,29.6,-89,26.5,-90,24.1]],
 ['mjo',0,[-90,27.3,-87.2,29.6]],
 ['mjo',0,[-44.7,29.6,-42.3,27.9,-37.5,27.2,-33.3,27.9,-30.9,29.6]],
 ['er',1,[44.2,25,47,25.7,49.3,24.6,48.7,23.8,45.7,24.1]],
 ['mjo',0,[89.5,-0.7,87,-1,86.4,-2,89.5,-2.4]]
];
const contours30Nov = [
 ['mjo',0,[-90,24.2,-84.6,24.7,-81.6,27.5,-81,30]],
 ['er',0,[-81.8,30,-80.6,27,-77,27,-73.4,27.5,-71,30]],
 ['kelvin',0,[-78.8,30,-77.6,23.2,-76.4,19.9,-72.2,19,-69.2,20.4,-63.2,24.7,-60.8,30]],
 ['mjo',0,[-41,30,-38,27.5,-33.9,26.3,-29.7,27,-26.7,30]],
 ['kelvin',0,[-34.9,30,-33.3,26,-29.7,24.2,-26,25,-22,30]],
 ['kelvin',1,[-38.7,14.2,-37.5,15.1,-33.7,15.4,-34.2,14.2,-37.5,13.7]]
];
const contours3Dec = [
 ['kelvin',0,[-85.4,29.5,-86,25.7,-89,22.7]],
 ['mjo',0,[-87.2,29.5,-86.6,24.8,-83.6,23.8,-78.8,25.2,-75.8,29.5]],
 ['kelvin',0,[-51.3,29.5,-51.3,27.6,-48.9,23.8,-45.3,23.5,-42.3,25.7,-39.3,30]],
 ['mjo',0,[-37.5,29.7,-34.5,27.1,-30.3,26,-26,26.7,-22.5,29.7]]
];
const panelContours = [contours12Nov,contours15Nov,contours18Nov,contours21Nov,contours24Nov,contours27Nov,contours30Nov,contours3Dec];

const equatorOceanSpans = [[-90,-80],[-50,9],[43,90]];
const primeMeridianSpan = [5,-10];

/* ---------- axis functions ---------- */
const NS = 'http://www.w3.org/2000/svg';
const pxPerLon = 3.517;
const pxPerLat = 3.51;
function panelLeft(col){ return col === 0 ? 102.5 : 845; }
function panelTop(row){ return 39 + row * 225; }
function lonToX(lon, col){ return panelLeft(col) + (lon + 90) * pxPerLon; }
function latToY(lat, row){ return panelTop(row) + (30 - lat) * pxPerLat; }
function toPixels(flat, col, row){
  const pts = [];
  for (let i = 0; i + 1 < flat.length; i += 2) pts.push([lonToX(flat[i], col), latToY(flat[i + 1], row)]);
  return pts;
}
function smoothPath(pts, closed){
  if (pts.length < 3) return 'M' + pts.map(p => p[0].toFixed(1) + ' ' + p[1].toFixed(1)).join('L');
  const n = pts.length;
  const at = i => closed ? pts[(i + n) % n] : pts[Math.max(0, Math.min(n - 1, i))];
  let d = 'M' + pts[0][0].toFixed(1) + ' ' + pts[0][1].toFixed(1);
  const last = closed ? n : n - 1;
  for (let i = 0; i < last; i++) {
    const a = at(i - 1), b = at(i), c = at(i + 1), e = at(i + 2);
    d += 'C' + (b[0] + (c[0] - a[0]) / 6).toFixed(1) + ' ' + (b[1] + (c[1] - a[1]) / 6).toFixed(1) + ' ' +
         (c[0] - (e[0] - b[0]) / 6).toFixed(1) + ' ' + (c[1] - (e[1] - b[1]) / 6).toFixed(1) + ' ' +
         c[0].toFixed(1) + ' ' + c[1].toFixed(1);
  }
  return d + (closed ? 'Z' : '');
}
function straightPath(pts){
  return 'M' + pts.map(p => p[0].toFixed(1) + ' ' + p[1].toFixed(1)).join('L');
}
function levelColor(level){
  const idx = level < 0 ? colorbarLevels.indexOf(level) : colorbarLevels.indexOf(level) + 1;
  return colorbarColors[idx];
}
function addLine(parent, x1, y1, x2, y2, width, color){
  const line = document.createElementNS(NS, 'line');
  
  
  line.setAttribute('x1', x1);
  line.setAttribute('y1', y1);
  line.setAttribute('x2', x2);
  line.setAttribute('y2', y2);
  line.setAttribute('stroke', color);
  line.setAttribute('stroke-width', width);
  parent.appendChild(line);
  return line;
}
function addLabel(parent, str, x, y, size, anchor, hScale){
  const t = document.createElementNS(NS, 'text');
  
  
  t.setAttribute('transform', 'translate(' + x + ' ' + y + ') scale(' + hScale + ' 1)');
  t.setAttribute('font-size', size);
  t.setAttribute('text-anchor', anchor);
  t.textContent = str;
  parent.appendChild(t);
  return t;
}

/* ---------- build panels ---------- */
const contourColors = {mjo:'#000000', kelvin:'#0000ff', er:'#ff0000', low:'#a020f0', cyclone:'#000000', eye:'#ffffff'};
const panelsGroup = document.getElementById('panels');

panelTitles.forEach((title, i) => {
  const col = i < 4 ? 0 : 1;
  const row = i % 4;
  const L = lonToX(-90, col), R = lonToX(90, col), T = latToY(30, row), B = latToY(-10, row);
  const g = document.createElementNS(NS, 'g');
  
  
  panelsGroup.appendChild(g);

  const clip = document.createElementNS(NS, 'clipPath');
  clip.setAttribute('id', 'clip' + i);
  const clipRect = document.createElementNS(NS, 'rect');
  clipRect.setAttribute('x', L);
  clipRect.setAttribute('y', T);
  clipRect.setAttribute('width', R - L);
  clipRect.setAttribute('height', B - T);
  clip.appendChild(clipRect);
  g.appendChild(clip);

  const bg = document.createElementNS(NS, 'rect');
  
  
  bg.setAttribute('x', L);
  bg.setAttribute('y', T);
  bg.setAttribute('width', R - L);
  bg.setAttribute('height', B - T);
  bg.setAttribute('fill', '#f8f8f8');
  g.appendChild(bg);

  const inner = document.createElementNS(NS, 'g');
  inner.setAttribute('clip-path', 'url(#clip' + i + ')');
  g.appendChild(inner);

  /* shading, weakest first */
  panelShades[i].slice().sort((a, b) => Math.abs(a[0]) - Math.abs(b[0])).forEach(entry => {
    const p = document.createElementNS(NS, 'path');
    
    
    p.setAttribute('d', smoothPath(toPixels(entry[1], col, row), true));
    p.setAttribute('fill', levelColor(entry[0]));
    inner.appendChild(p);
  });

  /* coasts and borders */
  borderLines.concat(coastLines).forEach(line => {
    const p = document.createElementNS(NS, 'path');
    
    
    p.setAttribute('d', straightPath(toPixels(line, col, row)));
    p.setAttribute('fill', 'none');
    p.setAttribute('stroke', '#5f5f5f');
    p.setAttribute('stroke-width', '2');
    p.setAttribute('stroke-linejoin', 'round');
    p.setAttribute('stroke-linecap', 'round');
    inner.appendChild(p);
  });
  islandDashes.forEach(line => {
    const p = document.createElementNS(NS, 'path');
    
    
    p.setAttribute('d', straightPath(toPixels(line, col, row)));
    p.setAttribute('fill', 'none');
    p.setAttribute('stroke', '#5f5f5f');
    p.setAttribute('stroke-width', '2.6');
    p.setAttribute('stroke-linecap', 'round');
    inner.appendChild(p);
  });

  /* dashed equator + prime meridian, over ocean only */
  equatorOceanSpans.forEach(span => {
    const d = addLine(inner, lonToX(span[0], col), latToY(0, row), lonToX(span[1], col), latToY(0, row), 1.4, '#444');
    
    d.setAttribute('stroke-dasharray', '5 4');
  });
  const mer = addLine(inner, lonToX(0, col), latToY(primeMeridianSpan[0], row), lonToX(0, col), latToY(primeMeridianSpan[1], row), 1.4, '#444');
  
  mer.setAttribute('stroke-dasharray', '5 4');

  /* wave contours */
  panelContours[i].forEach(entry => {
    const kind = entry[0];
    const p = document.createElementNS(NS, 'path');
    
    
    p.setAttribute('d', smoothPath(toPixels(entry[2], col, row), entry[1] === 1));
    p.setAttribute('fill', kind === 'cyclone' ? '#e8161e' : 'none');
    p.setAttribute('stroke', contourColors[kind]);
    p.setAttribute('stroke-width', kind === 'cyclone' ? '2.6' : '2');
    if (kind === 'low') p.setAttribute('stroke-dasharray', '2 1');
    inner.appendChild(p);
  });

  /* frame */
  const frame = document.createElementNS(NS, 'rect');
  
  
  frame.setAttribute('x', L);
  frame.setAttribute('y', T);
  frame.setAttribute('width', R - L);
  frame.setAttribute('height', B - T);
  frame.setAttribute('fill', 'none');
  frame.setAttribute('stroke', '#000');
  frame.setAttribute('stroke-width', '3');
  g.appendChild(frame);

  /* longitude ticks */
  for (let lon = -90; lon <= 90; lon += 10) {
    const major = lon % 60 === 0;
    const len = major ? 6 : 3;
    addLine(g, lonToX(lon, col), T, lonToX(lon, col), T - len, major ? 2.4 : 1.3, '#000');
    addLine(g, lonToX(lon, col), B, lonToX(lon, col), B + len, major ? 2.4 : 1.3, '#000');
  }
  /* latitude ticks */
  for (let lat = -10; lat <= 30; lat += 2) {
    const major = lat % 10 === 0;
    const len = major ? 5 : 2.5;
    addLine(g, L, latToY(lat, row), L - len, latToY(lat, row), major ? 2.2 : 1.2, '#000');
    addLine(g, R, latToY(lat, row), R + len, latToY(lat, row), major ? 2.2 : 1.2, '#000');
  }

  /* labels */
  if (col === 0) {
    latTickLabels.forEach(tick => {
      addLabel(g, tick[1], 74, latToY(tick[0], row) + 12.5, 36, 'end', 0.945);
    });
  }
  if (row === 3) {
    lonTickLabels.forEach(tick => {
      addLabel(g, tick[1], lonToX(tick[0], col), 911, 36, 'middle', 0.955);
    });
  }
  const titleEl = addLabel(g, title, L - 2.5, T - 8, 36.5, 'start', 0.955);
  
  if (i === 0) {
    const obs = addLabel(g, 'Observed', R + 2, T - 8, 36.5, 'end', 0.955);
    
  }
  if (i === 4) {
    const fc = addLabel(g, 'CFS Forecast', R + 1, T - 8, 36.5, 'end', 0.955);
    
  }
});

/* ---------- colorbar ---------- */
const barGroup = document.getElementById('colorbar');
const barX = v => 229 + v * 54.9;
colorbarColors.forEach((c, i) => {
  const r = document.createElementNS(NS, 'rect');
  
  
  r.setAttribute('x', barX(i));
  r.setAttribute('y', 972);
  r.setAttribute('width', 54.9);
  r.setAttribute('height', 23);
  r.setAttribute('fill', c);
  r.setAttribute('stroke', '#000');
  r.setAttribute('stroke-width', '1.2');
  barGroup.appendChild(r);
});
colorbarLevels.forEach((v, i) => {
  const t = addLabel(barGroup, String(v), barX(i + 1), 1024, 32, 'middle', 0.94);
  
});
</script>
</body>
</html>
